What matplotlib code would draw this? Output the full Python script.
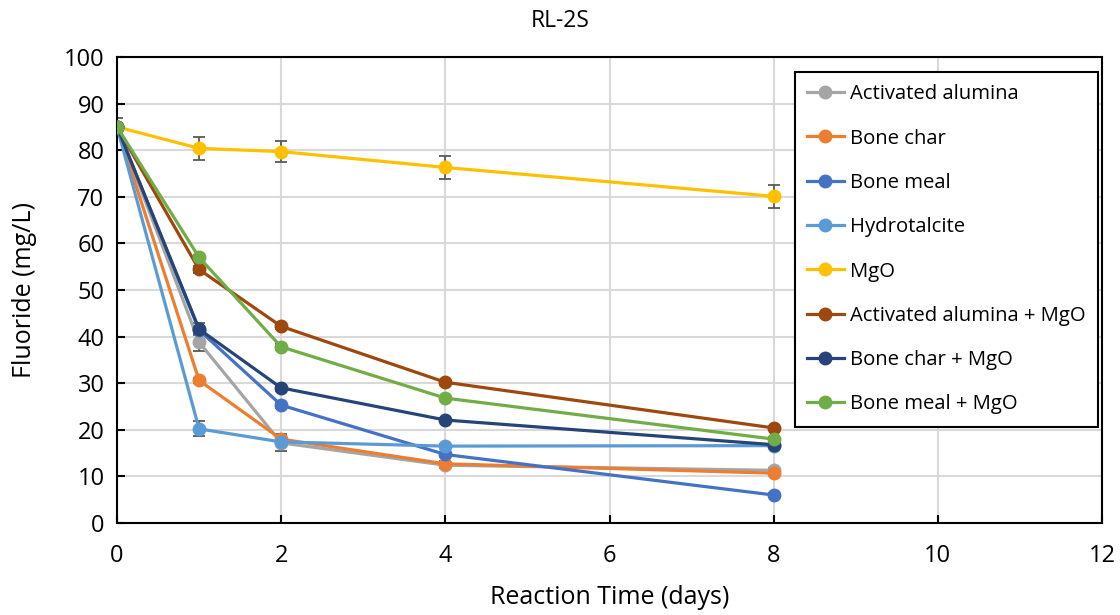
import matplotlib
matplotlib.use("Agg")
import matplotlib.pyplot as plt

plt.rcParams['font.family'] = ['Open Sans', 'DejaVu Sans']

days = [0, 1, 2, 4, 8]
series_names = ["Activated alumina", "Bone char", "Bone meal", "Hydrotalcite", "MgO",
                "Activated alumina + MgO", "Bone char + MgO", "Bone meal + MgO"]
activated_alumina = [85.0, 38.8, 17.2, 12.4, 11.3]
bone_char = [85.0, 30.6, 18.0, 12.7, 10.7]
bone_meal = [85.0, 41.4, 25.3, 14.7, 6.0]
hydrotalcite = [85.0, 20.2, 17.4, 16.5, 16.6]
mgo = [85.0, 80.4, 79.7, 76.3, 70.1]
aa_mgo = [85.0, 54.4, 42.2, 30.2, 20.4]
bc_mgo = [85.0, 41.6, 29.0, 22.1, 16.8]
bm_mgo = [85.0, 57.0, 37.8, 26.8, 18.0]

err_aa = [0.5, 1.8, 1.8, 0.6, 0.5]
err_bc = [0.5, 0.6, 0.6, 0.5, 0.5]
err_bm = [0.5, 0.6, 0.6, 0.5, 0.5]
err_ht = [0.5, 1.6, 0.6, 0.5, 0.5]
err_mgo = [2.0, 2.5, 2.3, 2.5, 2.4]
err_aam = [0.5, 0.8, 0.6, 0.5, 0.5]
err_bcm = [0.5, 1.3, 0.6, 0.5, 0.5]
err_bmm = [0.5, 0.6, 0.6, 0.5, 0.5]

colors = ["#A5A5A5", "#ED7D31", "#4472C4", "#5B9BD5", "#FFC000", "#9E480E", "#264478", "#70AD47"]

data = [activated_alumina, bone_char, bone_meal, hydrotalcite, mgo, aa_mgo, bc_mgo, bm_mgo]
errs = [err_aa, err_bc, err_bm, err_ht, err_mgo, err_aam, err_bcm, err_bmm]

fig = plt.figure(figsize=(11.2, 6.15), dpi=100)
ax = fig.add_axes([117/1120, 1-523/615, (1102-117)/1120, (523-57)/615])

handles = []
for name, vals, e, c in zip(series_names, data, errs, colors):
    ax.errorbar(days, vals, yerr=e, fmt='none', ecolor='#595959', elinewidth=1.3,
                capsize=4, capthick=1.3, zorder=2)
    h, = ax.plot(days, vals, '-o', color=c, lw=2.3, markersize=9, label=name, zorder=3)
    handles.append(h)

ax.set_xlim(0, 12)
ax.set_ylim(0, 100)
ax.set_xticks(range(0, 13, 2))
ax.set_yticks(range(0, 101, 10))
ax.grid(True, color='#D9D9D9', lw=1.5, zorder=0)
ax.set_axisbelow(True)
for s in ax.spines.values():
    s.set_color('black')
    s.set_linewidth(1.5)
ax.tick_params(direction='in', length=6, width=1.5, labelsize=17, colors='black')
ax.tick_params(axis='y', pad=9)
ax.tick_params(axis='x', pad=15)

ax.set_xlabel("Reaction Time (days)", fontsize=18, labelpad=12)
ax.set_ylabel("Fluoride (mg/L)", fontsize=18, labelpad=19)
fig.text(0.5, 1-21/615, "RL-2S", ha='center', va='center', fontsize=16.5)

leg = ax.legend(handles=handles, loc='upper left', bbox_to_anchor=((795-117)/(1102-117), 1-(72-57)/(523-57)),
                fontsize=14.6, frameon=True, fancybox=False, edgecolor='black',
                handlelength=1.8, handletextpad=0.3, labelspacing=1.2, borderpad=0.6,
                borderaxespad=0)
leg.get_frame().set_linewidth(1.5)
leg.get_frame().set_alpha(1)

fig.savefig("out.png", dpi=100)
